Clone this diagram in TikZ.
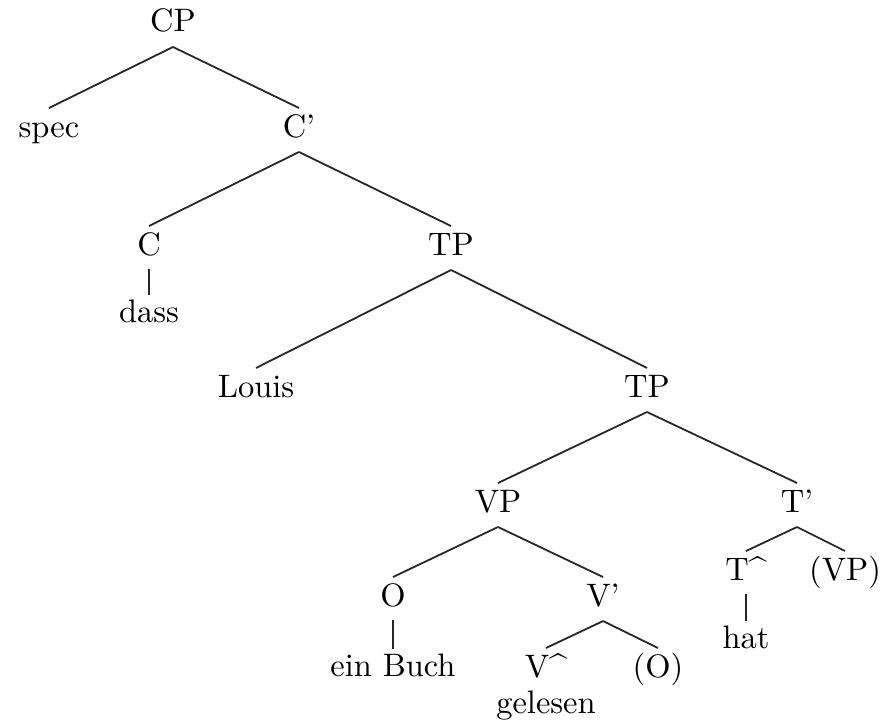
\documentclass[tikz,border=0pt]{standalone}
\usetikzlibrary{calc}
\begin{document}
\begin{tikzpicture}[x=0.30769pt, y=-0.30769pt,
  lbl/.style={anchor=base, inner sep=0pt, font=\fontsize{10}{12}\selectfont},
  branch/.style={line width=0.55pt, draw=black!85}]
\useasboundingbox (0,0) rectangle (884,723);
% nodes
\node[lbl] (cp) at (173,32) {CP};
\node[lbl] (spec) at (49,137) {spec};
\node[lbl] (cbar) at (299,137) {C'};
\node[lbl] (c) at (149,255) {C};
\node[lbl] (tp1) at (451,255) {TP};
\node[lbl] (dass) at (149,322) {dass};
\node[lbl] (louis) at (256,397) {Louis};
\node[lbl] (tp2) at (647,397) {TP};
\node[lbl] (vp) at (498,512) {VP};
\node[lbl] (tbar) at (797,512) {T'};
\node[lbl] (that) at (746,580) {T\^{}};
\node[lbl] (vpt) at (845,580) {(VP)};
\node[lbl] (o) at (393,606) {O};
\node[lbl] (vbar) at (603,606) {V'};
\node[lbl] (hat) at (746,648) {hat};
\node[lbl] (buch) at (393,676) {ein Buch};
\node[lbl] (vhat) at (546,677) {V\^{}};
\node[lbl] (ot) at (658,677) {(O)};
\node[lbl] (gel) at (546,713) {gelesen};
% binary branches
\foreach \p/\k in {cp/spec, cp/cbar, cbar/c, cbar/tp1, tp1/louis, tp1/tp2,
                   tp2/vp, tp2/tbar, tbar/that, tbar/vpt, vp/o, vp/vbar,
                   vbar/vhat, vbar/ot}
  \draw[branch] ($(\p.base)+(0,15)$) -- ($(\k.base)+(0,-29)$);
% unary branches
\foreach \p/\k in {c/dass, that/hat, o/buch}
  \draw[branch] ($(\p.base)+(0,14)$) -- ($(\k.base)+(0,-27)$);
\end{tikzpicture}
\end{document}
